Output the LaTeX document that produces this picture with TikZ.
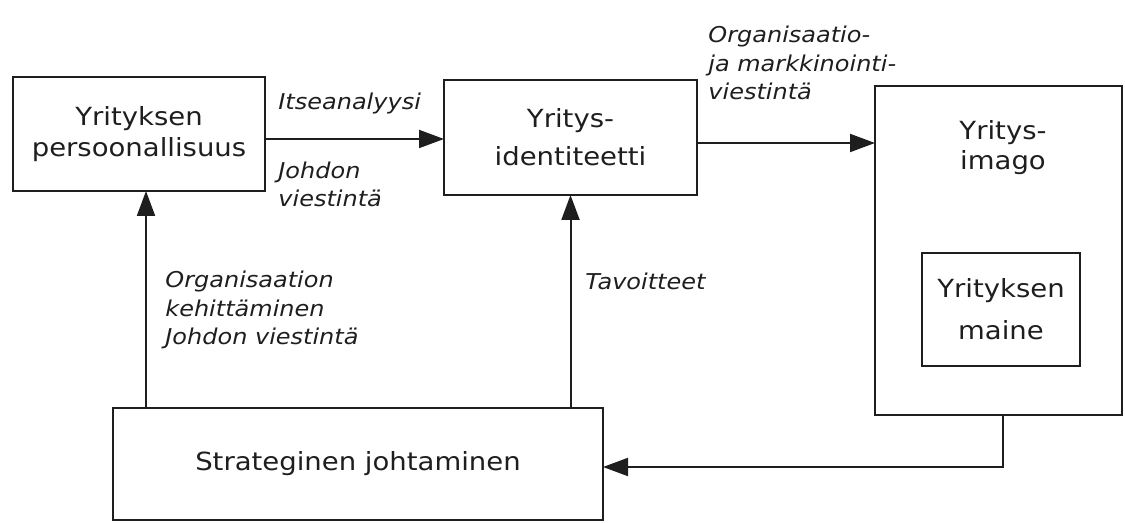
\documentclass[tikz,border=0pt]{standalone}
\usepackage{fontspec}
\setmainfont{DejaVu Sans}[FakeStretch=1.1]
\usetikzlibrary{arrows.meta,calc}
\definecolor{ink}{HTML}{1E1E1E}
\begin{document}
\begin{tikzpicture}[x=0.5pt,y=-0.5pt,
  box/.style={draw=ink,line width=1pt,inner sep=0pt,outer sep=0pt,
    font=\fontsize{12.5}{15.5}\selectfont,align=center,text=ink},
  boxtext/.style={font=\fontsize{12.5}{15}\selectfont,align=center,text=ink,inner sep=0pt},
  lab/.style={font=\fontsize{10.9}{14.3}\selectfont\itshape,align=left,
    inner sep=0pt,anchor=base west,text=ink},
  arr/.style={draw=ink,line width=1pt,-{Triangle[length=12.5pt,width=9pt]}}]
\useasboundingbox (0,0) rectangle (1125,523);
% boxes
\node[box,minimum width=126pt,minimum height=57pt] (A) at (139,134)
  {Yrityksen\\persoonallisuus};
\node[box,minimum width=126.5pt,minimum height=57.5pt,
  font=\fontsize{12.5}{19}\selectfont] (B) at (570.5,137.5)
  {Yritys-\\identiteetti};
\node[box,minimum width=123.5pt,minimum height=164.5pt] (C) at (998.5,250.5) {};
\node[boxtext] (Ct) at (1003,148) {Yritys-\\imago};
\node[box,minimum width=79pt,minimum height=56.5pt,
  font=\fontsize{12.5}{21}\selectfont] (D) at (1001,309.5)
  {Yrityksen\\maine};
\node[box,minimum width=245pt,minimum height=56pt] (E) at (358,464)
  {Strateginen johtaminen};
% connectors
\draw[arr] ([yshift=-2.5pt]A.east) -- ([yshift=-2.5pt]A.east -| B.west);
\draw[arr] ([yshift=-2.75pt]B.east) -- ([yshift=-2.75pt]B.east -| C.west);
\draw[arr] ([xshift=3.5pt]A.south |- E.north) -- ([xshift=3.5pt]A.south);
\draw[arr] (B.south |- E.north) -- (B.south);
\draw[arr] ([xshift=2.25pt]C.south) |- ([yshift=-1.5pt]E.east);
% labels (base = baseline of last line)
\node[lab] (l1) at (278,110) {Itseanalyysi};
\node[lab] (l2) at (278,207) {Johdon\\viestintä};
\node[lab] (l3) at (708,100) {Organisaatio-\\ja markkinointi-\\viestintä};
\node[lab] (l4) at (165,345) {Organisaation\\kehittäminen\\Johdon viestintä};
\node[lab] (l5) at (585,290) {Tavoitteet};
\end{tikzpicture}
\end{document}
